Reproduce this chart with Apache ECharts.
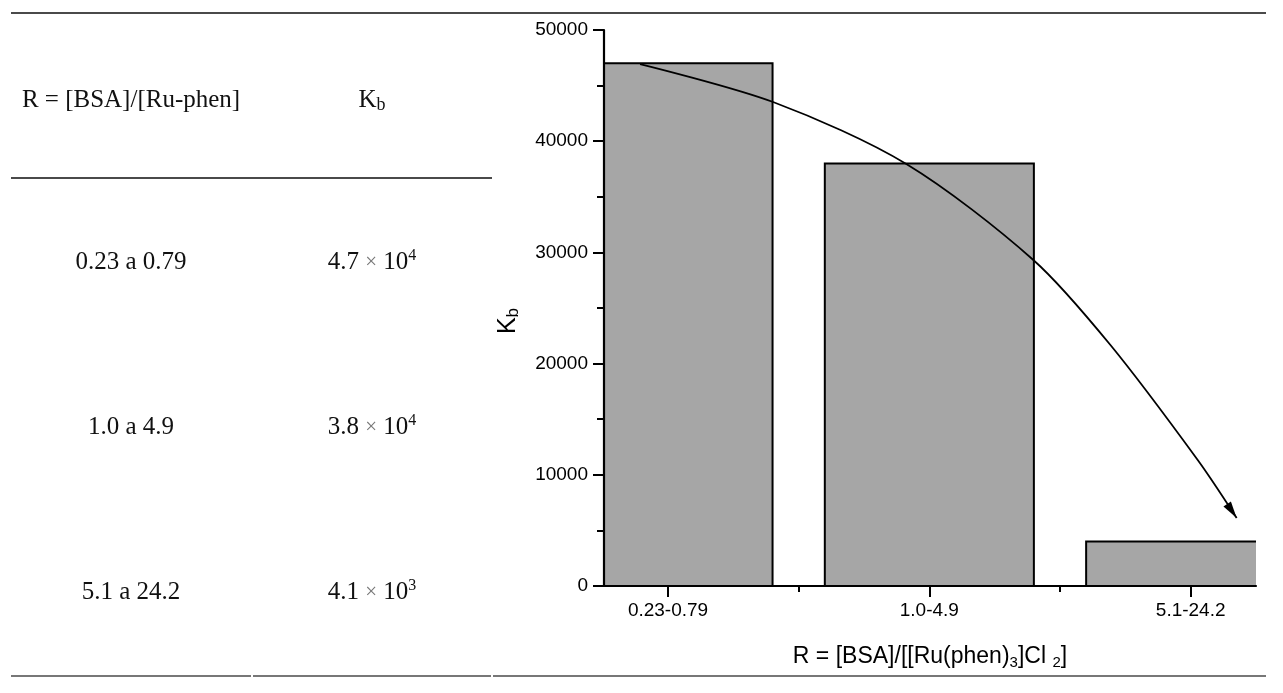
<!DOCTYPE html>
<html>
<head>
<meta charset="utf-8">
<script src="https://cdn.jsdelivr.net/npm/echarts@6/dist/echarts.min.js"></script>
<style>
  html, body { margin: 0; padding: 0; background: #fff; }
  #chart { width: 1283px; height: 693px; }
</style>
</head>
<body>
<div id="chart"></div>
<script>
// ---- Data ----
const categories = ['0.23-0.79', '1.0-4.9', '5.1-24.2'];
const categoryPos = [1, 2, 3];
const kbValues = [47000, 38000, 4000];
const yTicks = [0, 10000, 20000, 30000, 40000, 50000];

// Table (left side)
const tableHeader = ['R = [BSA]/[Ru-phen]', 'K', 'b'];
const tableRanges = ['0.23 a 0.79', '1.0 a 4.9', '5.1 a 24.2'];
const tableKbMantissa = ['4.7', '3.8', '4.1'];
const tableKbExponent = ['4', '4', '3'];

// Annotation arrow path (category position, Kb value)
const arrowX = [0.893, 1.402, 1.912, 2.398, 2.693, 3.027, 3.176];
const arrowY = [46940, 43525, 37950, 29320, 21670, 11330, 6115];

// ---- Chart ----
const chart = echarts.init(document.getElementById('chart'));
const SANS = '"Liberation Sans", Arial, sans-serif';
const SERIF = '"Liberation Serif", "Times New Roman", serif';
const tableColX = [131, 372];
const tableRowY = [262, 427, 592];

const barData = categoryPos.map((p, i) => [p, kbValues[i]]);
const arrowData = arrowX.map((x, i) => [x, arrowY[i]]);
const n = arrowData.length;
const arrowHeadData = [[arrowData[n - 1][0], arrowData[n - 1][1], arrowData[n - 2][0], arrowData[n - 2][1]]];

const graphics = [];
// rules
const ruleStyle = { stroke: '#4a4a4a', lineWidth: 2 };
graphics.push({ type: 'line', shape: { x1: 11, y1: 13, x2: 1266, y2: 13 }, style: ruleStyle });
graphics.push({ type: 'line', shape: { x1: 11, y1: 178, x2: 492, y2: 178 }, style: ruleStyle });
[[11, 251], [253, 491], [493, 1266]].forEach(s => {
  graphics.push({ type: 'line', shape: { x1: s[0], y1: 676, x2: s[1], y2: 676 }, style: { stroke: '#4a4a4a', lineWidth: 1.6 } });
});
// header
graphics.push({ type: 'text', x: tableColX[0], y: 100, style: { text: tableHeader[0], font: '25px ' + SERIF, fill: '#111', align: 'center', verticalAlign: 'middle' } });
graphics.push({ type: 'text', x: tableColX[1], y: 100, style: {
  text: '{m|' + tableHeader[1] + '}{s|' + tableHeader[2] + '}', align: 'center', verticalAlign: 'middle',
  rich: {
    m: { fontFamily: SERIF, fontSize: 25, lineHeight: 28, fill: '#111', verticalAlign: 'middle' },
    s: { fontFamily: SERIF, fontSize: 18, lineHeight: 17, fill: '#111', verticalAlign: 'bottom' }
  }
} });
// rows
tableRanges.forEach((r, i) => {
  graphics.push({ type: 'text', x: tableColX[0], y: tableRowY[i], style: { text: r, font: '25px ' + SERIF, fill: '#111', align: 'center', verticalAlign: 'middle' } });
  graphics.push({ type: 'text', x: tableColX[1], y: tableRowY[i], style: {
    text: '{m|' + tableKbMantissa[i] + ' }{x|×}{m| 10}{p|' + tableKbExponent[i] + '}', align: 'center', verticalAlign: 'middle',
    rich: {
      m: { fontFamily: SERIF, fontSize: 25, lineHeight: 28, fill: '#111', verticalAlign: 'middle' },
      x: { fontFamily: SERIF, fontSize: 21, lineHeight: 28, fill: '#777', verticalAlign: 'middle' },
      p: { fontFamily: SERIF, fontSize: 16, lineHeight: 15, fill: '#111', verticalAlign: 'top' }
    }
  } });
});

const option = {
  animation: false,
  backgroundColor: '#fff',
  grid: { left: 604, right: 27, top: 30, bottom: 107, containLabel: false, outerBoundsMode: 'none' },
  xAxis: [{
    type: 'value', min: 0.755, max: 3.25, z: 10,
    axisLine: { show: true, onZero: false, lineStyle: { color: '#000', width: 2.2 } },
    axisTick: { show: true, inside: false, length: 11, lineStyle: { color: '#000', width: 2 }, customValues: categoryPos },
    axisLabel: { show: true, customValues: categoryPos, margin: 15, fontSize: 19, fontFamily: SANS, color: '#000',
      formatter: v => categories[categoryPos.indexOf(Math.round(v))] },
    splitLine: { show: false },
    name: '{n|R = [BSA]/[[Ru(phen)}{s|3}{n|]Cl }{s|2}{n|]}',
    nameLocation: 'middle', nameGap: 57, nameMoveOverlap: false,
    nameTextStyle: { rich: {
      n: { fontFamily: SANS, fontSize: 23, lineHeight: 27, color: '#000', verticalAlign: 'middle' },
      s: { fontFamily: SANS, fontSize: 15, lineHeight: 14, color: '#000', verticalAlign: 'bottom' }
    } }
  }, {
    type: 'value', min: 0.755, max: 3.25, position: 'bottom', z: 10,
    axisLine: { show: false },
    axisTick: { show: true, inside: false, length: 6, lineStyle: { color: '#000', width: 2 }, customValues: categoryPos.slice(0, -1).map(p => p + 0.5) },
    axisLabel: { show: false },
    splitLine: { show: false }
  }],
  yAxis: {
    type: 'value', min: 0, max: 50000, interval: 10000, z: 10,
    axisLine: { show: true, lineStyle: { color: '#000', width: 2.2 } },
    axisTick: { show: true, inside: false, length: 11, lineStyle: { color: '#000', width: 2 } },
    minorTick: { show: true, splitNumber: 2, length: 7, lineStyle: { color: '#000', width: 2 } },
    axisLabel: { margin: 16, fontSize: 19, fontFamily: SANS, color: '#000',
      formatter: v => (yTicks.indexOf(v) >= 0 ? String(v) : '') },
    splitLine: { show: false },
    minorSplitLine: { show: false },
    name: '{n|K}{s|b}',
    nameLocation: 'middle', nameGap: 82, nameMoveOverlap: false,
    nameTextStyle: { padding: [0, 26, 0, 0], rich: {
      n: { fontFamily: SANS, fontSize: 25, lineHeight: 28, color: '#000', verticalAlign: 'middle' },
      s: { fontFamily: SANS, fontSize: 17, lineHeight: 16, color: '#000', verticalAlign: 'bottom' }
    } }
  },
  series: [{
    type: 'custom', name: 'Kb', clip: true, z: 2,
    data: barData,
    renderItem: function (params, api) {
      const x = api.value(0), y = api.value(1);
      const p0 = api.coord([x - 0.4, 0]);
      const p1 = api.coord([x + 0.4, y]);
      return { type: 'rect', shape: { x: p0[0], y: p1[1], width: p1[0] - p0[0], height: p0[1] - p1[1] },
        style: { fill: '#a6a6a6', stroke: '#000', lineWidth: 2 } };
    }
  }, {
    type: 'line', name: 'trend', data: arrowData, smooth: 0.3, symbol: 'none', z: 5,
    lineStyle: { color: '#000', width: 1.8 }
  }, {
    type: 'custom', name: 'arrowhead', data: arrowHeadData, z: 6, clip: false,
    renderItem: function (params, api) {
      const tip = api.coord([api.value(0), api.value(1)]);
      const prev = api.coord([api.value(2), api.value(3)]);
      const dx = tip[0] - prev[0], dy = tip[1] - prev[1];
      const len = Math.sqrt(dx * dx + dy * dy);
      const ux = dx / len, uy = dy / len;
      const L = 17, W = 4.5;
      const bx = tip[0] - ux * L, by = tip[1] - uy * L;
      return { type: 'polygon', shape: { points: [tip, [bx - uy * W, by + ux * W], [bx + uy * W, by - ux * W]] },
        style: { fill: '#000' } };
    }
  }],
  graphic: graphics
};
chart.setOption(option);
</script>
</body>
</html>
